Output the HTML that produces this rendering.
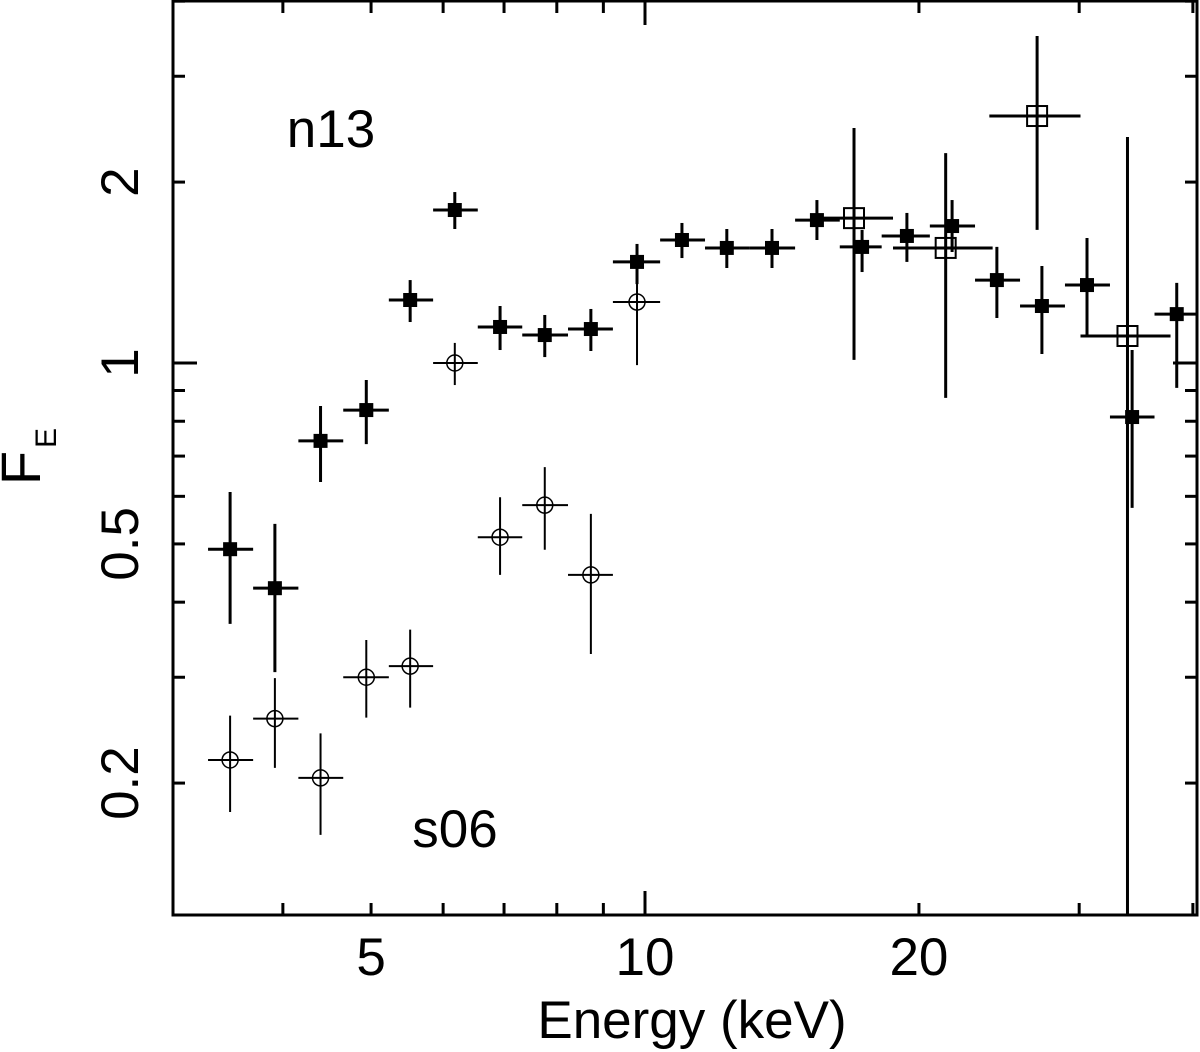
<!DOCTYPE html>
<html><head><meta charset="utf-8"><style>
body{margin:0;background:#fff}
svg{display:block;font-family:"Liberation Sans",sans-serif}
</style></head><body>
<svg id="chart" width="1200" height="1052">
<g id="axes"></g>
<g id="marks"></g>
<text x="331" y="147" font-size="53" text-anchor="middle">n13</text>
<text x="455" y="847" font-size="53" text-anchor="middle">s06</text>
<text x="692" y="1038" font-size="53" text-anchor="middle">Energy (keV)</text>
<g transform="translate(40,462) rotate(-90)">
<text x="-6" y="0" font-size="56" text-anchor="middle">F</text>
<text x="24" y="16" font-size="30" text-anchor="middle">E</text>
</g>
</svg>
<script>
// n13 filled squares
const fE  =[3.50,3.92,4.40,4.94,5.52,6.18,6.93,7.76,8.72,9.80,10.98,12.30,13.79,15.45,17.32,19.40,21.75,24.36,27.3,30.6,34.3,38.4];
const fLo =[3.31,3.71,4.16,4.66,5.23,5.85,6.55,7.33,8.23,9.22,10.39,11.64,13.04,14.62,16.37,18.2,20.56,23.05,25.83,28.94,32.43,36.3];
const fHi =[3.71,4.16,4.66,5.23,5.85,6.55,7.33,8.23,9.22,10.39,11.64,13.04,14.62,16.37,18.2,20.56,23.05,25.83,28.94,32.43,36.3,40.4];
const fF  =[0.490,0.422,0.742,0.835,1.273,1.797,1.148,1.113,1.139,1.473,1.602,1.554,1.554,1.729,1.560,1.627,1.690,1.374,1.244,1.348,0.813,1.206];
const fFlo=[0.368,0.306,0.634,0.733,1.170,1.671,1.051,1.023,1.047,1.353,1.495,1.439,1.439,1.602,1.417,1.473,1.530,1.188,1.035,1.113,0.574,0.909];
const fFhi=[0.610,0.540,0.848,0.937,1.374,1.925,1.244,1.202,1.230,1.578,1.710,1.671,1.671,1.867,1.665,1.777,1.867,1.560,1.450,1.614,1.051,1.359];
// s06 open circles
const cE  =[3.50,3.92,4.40,4.94,5.52,6.18,6.93,7.76,8.72,9.80];
const cLo =[3.31,3.71,4.16,4.66,5.23,5.85,6.55,7.33,8.23,9.22];
const cHi =[3.71,4.16,4.66,5.23,5.85,6.55,7.33,8.23,9.22,10.39];
const cF  =[0.2185,0.256,0.204,0.300,0.313,1.0,0.513,0.580,0.444,1.263];
const cFlo=[0.179,0.212,0.164,0.257,0.267,0.919,0.444,0.489,0.328,0.992];
const cFhi=[0.259,0.299,0.242,0.346,0.360,1.080,0.598,0.671,0.561,1.571];
// open squares
const sE  =[16.97,21.4,26.97,33.9];
const sLo =[15.45,18.73,23.9,30.1];
const sHi =[18.73,24.1,30.1,37.8];
const sF  =[1.742,1.554,2.576,1.109];
const sFlo=[1.012,0.875,1.665,0.12];
const sFhi=[2.460,2.235,3.50,2.377];
const xLabelVals=[5,10,20], xMajorLabels=['5','10','20'];
const xMajor=[10];
const xMinor=[4,5,6,7,8,9,20,30,40];
const yLabelVals=[0.2,0.5,1,2], yTickLabels=['0.2','0.5','1','2'];
const yMajor=[1];
const yMinor=[0.2,0.3,0.4,0.5,0.6,0.7,0.8,0.9,2,3,4];

const L=173,R=1197,T=1,B=915;
const X=e=>645+910*Math.log10(e/10);
const Y=f=>Math.min(B,363-601*Math.log10(f));
const NS='http://www.w3.org/2000/svg';
const axes=document.getElementById('axes'), marks=document.getElementById('marks');
function mk(tag,attrs,parent){const el=document.createElementNS(NS,tag);for(const k in attrs)el.setAttribute(k,attrs[k]);parent.appendChild(el);return el;}
const frame=mk('rect',{x:L,y:T,width:R-L,height:B-T,fill:'none',stroke:'#000','stroke-width':3},axes);


function xt(e,len){const x=X(e);mk('line',{x1:x,x2:x,y1:B,y2:B-len,stroke:'#000','stroke-width':3},axes);mk('line',{x1:x,x2:x,y1:T,y2:T+len,stroke:'#000','stroke-width':3},axes);}
function yt(f,len){const y=Y(f);mk('line',{x1:L,x2:L+len,y1:y,y2:y,stroke:'#000','stroke-width':3},axes);mk('line',{x1:R,x2:R-len,y1:y,y2:y,stroke:'#000','stroke-width':3},axes);}
xMajor.forEach(e=>xt(e,24));
xMinor.forEach(e=>xt(e,12));
yMajor.forEach(f=>yt(f,24));
yMinor.forEach(f=>yt(f,12));
xLabelVals.forEach((e,i)=>{const t=mk('text',{x:X(e),y:975,'font-size':53,'text-anchor':'middle'},axes);t.textContent=xMajorLabels[i];

});
yLabelVals.forEach((f,i)=>{const y=Y(f);const t=mk('text',{x:0,y:0,'font-size':53,'text-anchor':'middle',transform:`translate(138,${y}) rotate(-90)`},axes);t.textContent=yTickLabels[i];

});
function series(E,Lo,Hi,F,Flo,Fhi,kind){
 E.forEach((e,i)=>{
  const g=mk('g',{},marks);
  
  
  const x=X(e),y=Y(F[i]);const w=kind==='s06'?2:3;
  mk('line',{x1:X(Lo[i]),x2:X(Hi[i]),y1:y,y2:y,stroke:'#000','stroke-width':w},g);
  mk('line',{x1:x,x2:x,y1:Y(Flo[i]),y2:Y(Fhi[i]),stroke:'#000','stroke-width':w},g);
  if(kind==='n13')mk('rect',{x:x-7,y:y-7,width:14,height:14,fill:'#000'},g);
  else if(kind==='s06')mk('circle',{cx:x,cy:y,r:8,fill:'none',stroke:'#000','stroke-width':1.5},g);
  else mk('rect',{x:x-10,y:y-10,width:20,height:20,fill:'none',stroke:'#000','stroke-width':2},g);
 });
}
series(cE,cLo,cHi,cF,cFlo,cFhi,'s06');
series(sE,sLo,sHi,sF,sFlo,sFhi,'open-square');
series(fE,fLo,fHi,fF,fFlo,fFhi,'n13');
</script>
</body></html>
